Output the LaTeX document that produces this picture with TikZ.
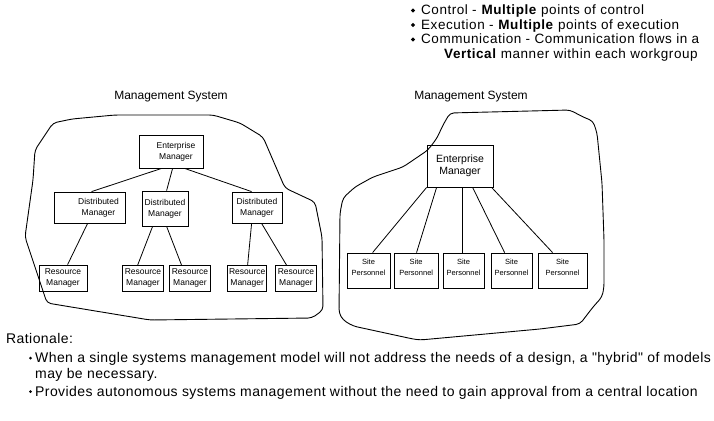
\documentclass[tikz,border=0pt]{standalone}
\usepackage{fontspec}
\setmainfont{Liberation Sans}
\newfontfamily\topfont[LetterSpace=4]{Liberation Sans}
\newfontfamily\botfont[LetterSpace=3]{Liberation Sans}
\usetikzlibrary{shapes.geometric}
\tikzset{
  box/.style={draw, line width=0.8pt, inner sep=0pt, align=center, font=\fontsize{8.5}{11}\selectfont},
  rbox/.style={box, font=\fontsize{10.5}{12}\selectfont},
  spbox/.style={box, minimum height=35pt, font=\fontsize{7.5}{11}\selectfont},
  link/.style={line width=0.8pt},
  blob/.style={line width=0.9pt, rounded corners=4pt},
  title/.style={font=\fontsize{12}{14}\selectfont},
  toptext/.style={anchor=base west, inner sep=0pt, font=\topfont\fontsize{13.5}{15}\selectfont},
  bottext/.style={anchor=base west, inner sep=0pt, font=\botfont\fontsize{14}{16}\selectfont},
  topbullet/.style={diamond, fill, inner sep=0pt, minimum size=4.5pt},
  botbullet/.style={circle, fill, inner sep=0pt, minimum size=3pt}
}
\begin{document}
\begin{tikzpicture}[x=1pt,y=-1pt]
\useasboundingbox (0,0) rectangle (714,420);
% top bullet list
\node[topbullet] (b1) at (413,10.5) {};
\node[topbullet] (b2) at (413,25) {};
\node[topbullet] (b3) at (413,39.5) {};
\node[toptext] (t1) at (421,15) {Control - \textbf{Multiple} points of control};
\node[toptext] (t2) at (421,29.5) {Execution - \textbf{Multiple} points of execution};
\node[toptext] (t3) at (421,44) {Communication - Communication flows in a};
\node[toptext] (t4) at (444,58.5) {\textbf{Vertical} manner within each workgroup};
% titles
\node[title] (tl) at (171,97) {Management System};
\node[title] (tr) at (471,97) {Management System};
% left blob
\draw[blob] (35,150) -- (53,123) -- (72,119) -- (115,115) -- (213,115) -- (240,123) -- (263,137)
  -- (285,188) -- (315,202) -- (322,237) -- (323,310) -- (312,318) -- (150,320) -- (47,303)
  -- (25,237) -- (33,180) -- cycle;
% right blob
\draw[blob] (450,113) -- (570,110) -- (583,117) -- (593,121) -- (597,133) -- (602,183) -- (604,240)
  -- (604,287) -- (602,297) -- (593,307) -- (580,324) -- (540,329) -- (420,340) -- (413,339)
  -- (353,326) -- (343,320) -- (339,313) -- (340,213) -- (343,198) -- (355,187) -- (373,177)
  -- (403,167) -- (428,150) -- (437,138) -- (443,125) -- cycle;
% left hierarchy
\node[box, minimum width=64pt, minimum height=33pt] (EML) at (171,151.5) {\hspace*{10pt}Enterprise\\\hspace*{10pt}Manager};
\node[box, minimum width=71pt, minimum height=31pt] (D1) at (89.5,207.5) {\hspace*{18pt}Distributed\\\hspace*{18pt}Manager};
\node[box, minimum width=46pt, minimum height=35pt] (D2) at (165,208.5) {Distributed\\Manager};
\node[box, minimum width=50pt, minimum height=31pt] (D3) at (257,207.5) {Distributed\\Manager};
\node[box, minimum width=48pt, minimum height=26pt] (R1) at (63,278) {Resource\\Manager};
\node[box, minimum width=40.6pt, minimum height=25.3pt] (R2) at (143,278.3) {Resource\\Manager};
\node[box, minimum width=41.4pt, minimum height=25.3pt] (R3) at (190,278.3) {Resource\\Manager};
\node[box, minimum width=39pt, minimum height=25.3pt] (R4) at (247.2,278.3) {Resource\\Manager};
\node[box, minimum width=41.4pt, minimum height=25.3pt] (R5) at (296,278.3) {Resource\\Manager};
\draw[link] ([xshift=23pt]EML.south west) -- ([xshift=38pt]D1.north west);
\draw[link] ([xshift=34pt]EML.south west) -- ([xshift=25pt]D2.north west);
\draw[link] ([xshift=46pt]EML.south west) -- ([xshift=20pt]D3.north west);
\draw[link] ([xshift=34pt]D1.south west) -- ([xshift=29pt]R1.north west);
\draw[link] ([xshift=11pt]D2.south west) -- ([xshift=15.3pt]R2.north west);
\draw[link] ([xshift=25pt]D2.south west) -- ([xshift=12.7pt]R3.north west);
\draw[link] ([xshift=20pt]D3.south west) -- ([xshift=20.3pt]R4.north west);
\draw[link] ([xshift=30pt]D3.south west) -- ([xshift=11.7pt]R5.north west);
% right hierarchy
\node[rbox, minimum width=66pt, minimum height=42pt] (EMR) at (460,166) {Enterprise\\Manager};
\node[spbox, minimum width=43pt] (S1) at (368.5,270.5) {Site\\Personnel\\[-4pt]\mbox{}};
\node[spbox, minimum width=43.5pt] (S2) at (416.2,270.5) {Site\\Personnel\\[-4pt]\mbox{}};
\node[spbox, minimum width=41pt] (S3) at (463.5,270.5) {Site\\Personnel\\[-4pt]\mbox{}};
\node[spbox, minimum width=41pt] (S4) at (511.5,270.5) {Site\\Personnel\\[-4pt]\mbox{}};
\node[spbox, minimum width=49pt] (S5) at (562.5,270.5) {Site\\Personnel\\[-4pt]\mbox{}};
\draw[link] (EMR.south west) -- ([xshift=26pt]S1.north west);
\draw[link] ([xshift=10pt]EMR.south west) -- ([xshift=22.5pt]S2.north west);
\draw[link] ([xshift=36pt]EMR.south west) -- ([xshift=20pt]S3.north west);
\draw[link] ([xshift=46pt]EMR.south west) -- ([xshift=14pt]S4.north west);
\draw[link] ([xshift=65pt]EMR.south west) -- ([xshift=15pt]S5.north west);
% rationale
\node[bottext] (rat) at (6,343.5) {Rationale:};
\node[botbullet] (c1) at (30.5,358) {};
\node[botbullet] (c2) at (30.5,391.5) {};
\node[bottext] (r1) at (35,362.5) {When a single systems management model will not address the needs of a design, a "hybrid" of models};
\node[bottext] (r2) at (35,378.5) {may be necessary.};
\node[bottext] (r3) at (35,396) {Provides autonomous systems management without the need to gain approval from a central location};
\end{tikzpicture}
\end{document}
